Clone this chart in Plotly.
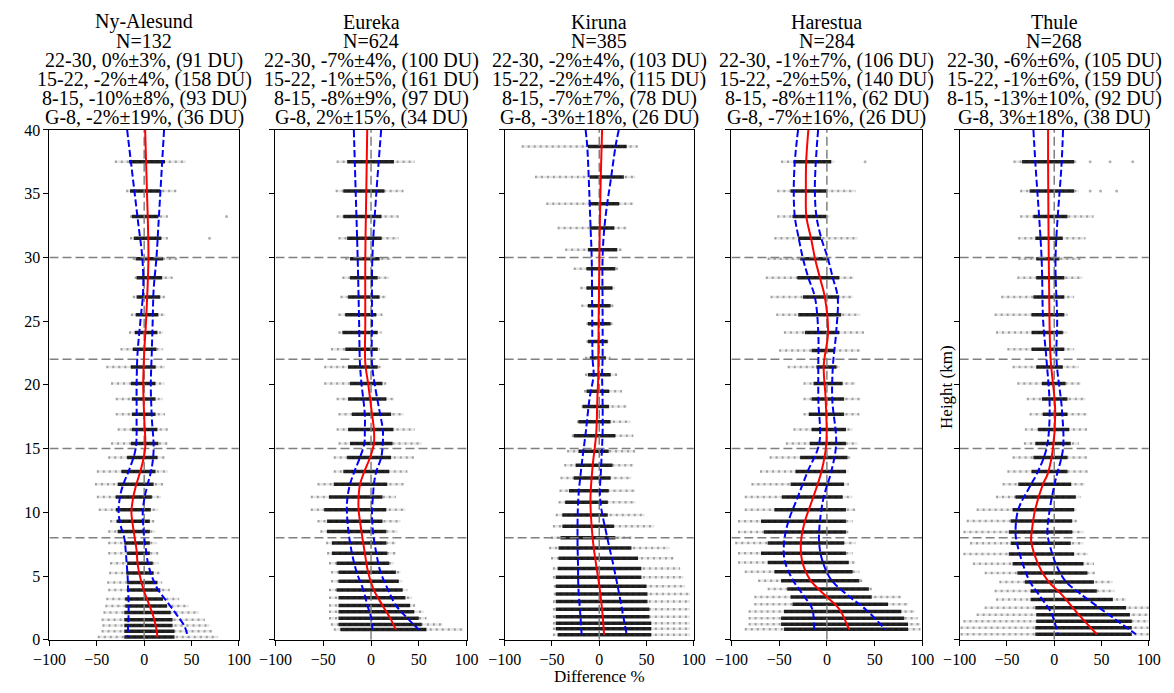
import plotly.graph_objects as go

FONT = "Liberation Serif, Times New Roman, Times, serif"

# ---------------- titles ----------------
STATIONS = ["Ny-Alesund", "Eureka", "Kiruna", "Harestua", "Thule"]
N_OBS = [132, 624, 385, 284, 268]
BIAS_22_30 = ["0%±3%", "-7%±4%", "-2%±4%", "-1%±7%", "-6%±6%"]
DU_22_30 = [91, 100, 103, 106, 105]
BIAS_15_22 = ["-2%±4%", "-1%±5%", "-2%±4%", "-2%±5%", "-1%±6%"]
DU_15_22 = [158, 161, 115, 140, 159]
BIAS_8_15 = ["-10%±8%", "-8%±9%", "-7%±7%", "-8%±11%", "-13%±10%"]
DU_8_15 = [93, 97, 78, 62, 92]
BIAS_G_8 = ["-2%±19%", "2%±15%", "-3%±18%", "-7%±16%", "3%±18%"]
DU_G_8 = [36, 34, 26, 26, 38]

BOUNDARY_HEIGHTS = [8, 15, 22, 30]
X_TICKS = [-100, -50, 0, 50, 100]
X_TICK_TEXT = ["\u2212100", "\u221250", "0", "50", "100"]
Y_TICKS = [0, 5, 10, 15, 20, 25, 30, 35, 40]

# ---------------- Ny-Alesund ----------------
NYA_LEVELS = [37.5, 35.2, 33.2, 31.5, 29.9, 28.4, 26.9, 25.5, 24.1, 22.8, 21.4, 20.1, 18.9, 17.7, 16.5, 15.4, 14.3, 13.2,
              12.2, 11.2, 10.2, 9.3, 8.5, 7.6, 6.8, 6.0, 5.25, 4.5, 3.9, 3.2, 2.65, 2.14, 1.58, 1.12, 0.67, 0.23]
NYA_CORE_LO = [-16, -15, -13, -11, -9, -8, -8, -9, -10, -12, -14, -14, -13, -13, -13, -14, -18, -24,
               -28, -30, -30, -29, -28, -21, -18, -18, -19, -18, -18, -20, -20, -21, -21, -21, -21, -21]
NYA_CORE_HI = [22, 17, 15, 18, 20, 19, 17, 15, 14, 13, 12, 12, 12, 12, 14, 15, 14, 12,
               10, 8, 7, 6, 6, 6, 6, 9, 10, 14, 17, 20, 24, 28, 30, 30, 32, 32]
NYA_OUT_LO = [-31, -19, -15, -15, -12, -10, -12, -14, -16, -25, -40, -35, -30, -30, -28, -35, -38, -50,
              -52, -50, -48, -36, -38, -38, -38, -36, -37, -39, -38, -40, -41, -43, -45, -44, -45, -49]
NYA_OUT_HI = [44, 34, 25, 25, 35, 30, 22, 22, 20, 20, 22, 22, 20, 22, 25, 25, 22, 25,
              20, 18, 15, 11, 12, 13, 15, 15, 17, 19, 27, 37, 47, 58, 64, 69, 72, 78]
NYA_OUTLIER_H = [33.2, 31.5]
NYA_OUTLIER_X = [87, 69]
NYA_H = [40, 37.5, 35, 32.5, 30, 27.5, 25, 22.5, 20, 17.5, 15, 13.5, 12, 11, 10, 9, 8, 7, 6, 5, 4, 3, 2, 1, 0.2]
NYA_MED = [1, 2, 3, 4, 4.5, 3.5, 2, 0, -1, 0, 1, -3, -9, -12, -13.5, -12, -10, -8, -7, -4.5, -1, 4, 9, 12.5, 14]
NYA_LO = [-18, -14, -10, -6, -2, -1, -4, -7, -8, -8, -9, -15, -23, -26, -27, -25, -21, -19.5, -18.5, -17.5, -17,
          -16.5, -16.5, -17, -17.5]
NYA_HI = [21, 19, 17, 15, 13, 10, 9, 8, 7, 8, 10, 8, 3, 0, -1.5, -1, 0, 2, 4, 8, 14, 24, 34, 43, 46]

# ---------------- Eureka ----------------
EUR_LEVELS = [37.5, 35.2, 33.2, 31.5, 29.9, 28.4, 26.9, 25.5, 24.1, 22.8, 21.4, 20.1, 18.9, 17.7, 16.5, 15.4, 14.3, 13.2,
              12.2, 11.2, 10.2, 9.3, 8.5, 7.6, 6.8, 6.0, 5.3, 4.6, 3.9, 3.3, 2.7, 2.2, 1.7, 1.2, 0.8]
EUR_CORE_LO = [-25, -29, -29, -25, -22, -22, -24, -27, -30, -27, -24, -22, -24, -20, -24, -22, -25, -29,
               -39, -44, -49, -46, -46, -41, -41, -36, -34, -34, -36, -34, -34, -34, -34, -34, -32]
EUR_CORE_HI = [24, 14, 11, 11, 9, 7, 9, 5.5, 7, 7, 7, 12, 16, 21, 23.5, 22.5, 21, 19,
               17, 12, 16, 12, 16, 16, 17, 19, 26, 29, 33, 36, 41, 45, 50, 53, 58]
EUR_OUT_LO = [-36, -37, -36, -34, -27, -30, -32, -34, -34, -42, -49, -49, -36, -34, -36, -34, -39, -39,
              -56, -63, -63, -56, -53, -47, -46, -44, -42, -42, -44, -44, -44, -44, -44, -42, -39]
EUR_OUT_HI = [46, 34, 29, 29, 21, 19, 16, 12, 11, 9, 11, 16, 24, 34, 46, 53, 45, 38,
              34, 26, 36, 31, 28, 26, 26, 24, 31, 33, 38, 43, 46, 55, 58, 75, 96]
EUR_OUTLIER_H = []
EUR_OUTLIER_X = []
EUR_H = [40, 35, 30, 25, 21.7, 20.1, 17.7, 16.5, 15.4, 14.3, 13.2, 12.2, 11.2, 10.2, 8.5, 6.8, 5.3, 3.9, 2.7, 1.7, 0.8]
EUR_MED = [-4, -5, -6, -6, -6, -3, 1, 3, 3, -1, -7, -11.5, -13, -13, -10, -6.5, -3, 3, 12, 20, 26]
EUR_LO = [-18, -16, -14, -12.5, -11.6, -10, -6.5, -6.5, -7, -11.6, -17.4, -22, -24.6, -25.3, -23.6, -20, -15, -8,
          -3.8, 0.3, 1.4]
EUR_HI = [10.6, 5.5, 1.4, 1, 1, 3.7, 9.5, 12.3, 12.3, 10.6, 5.5, 3, 2, 1, 2, 5.5, 10, 18, 26, 38, 50]

# ---------------- Kiruna ----------------
KIR_LEVELS = [38.7, 36.3, 34.2, 32.3, 30.6, 29.1, 27.6, 26.2, 24.8, 23.4, 22.1, 20.8, 19.5, 18.3, 17.1, 16.0, 14.8, 13.7,
              12.7, 11.7, 10.8, 9.8, 8.9, 8.0, 7.2, 6.4, 5.6, 4.9, 4.2, 3.6, 3.0, 2.4, 1.8, 1.3, 0.86, 0.4]
KIR_CORE_LO = [-12, -10, -10, -10, -12, -13.5, -13.5, -12, -12, -12, -10, -12, -13.5, -17.6, -22, -27, -22, -25,
               -27, -32, -36, -39, -39, -41, -43, -43, -44, -46, -46, -46, -46, -46, -46, -46, -46, -44]
KIR_CORE_HI = [29, 26, 21, 16, 19, 17, 14, 12, 12, 9, 7, 12, 10.4, 10.4, 12, 17, 10, 14,
               12, 10, 9, 9, 15.5, 17, 34, 41, 44.5, 44.5, 50, 51, 51, 53, 53, 55, 55, 55]
KIR_OUT_LO = [-82, -68, -56, -44, -36, -27, -20, -19, -13.5, -13.5, -15, -15, -16, -18.6, -23.6, -29, -34, -37,
              -41, -42, -43, -46, -49, -51, -53, -51, -49, -49, -48, -48, -49, -49, -49, -49, -49, -49]
KIR_OUT_HI = [41, 38, 36, 29, 24, 20, 17, 15, 14, 10.5, 12, 19, 24, 29, 33.5, 36, 38, 36,
              34, 38, 38, 48, 58, 35, 74, 79, 85.5, 89, 91, 96, 96, 96, 96, 96, 96, 96]
KIR_OUTLIER_H = []
KIR_OUTLIER_X = []
KIR_H = [40, 38.7, 36, 34, 32, 30, 26, 22, 20.8, 18.9, 16.2, 13.6, 11, 8, 6, 4, 2, 0.4]
KIR_MED = [3, 2.5, 1.5, 1, 0.5, 0.2, -0.5, -1, -1, -2, -3.2, -7, -9.3, -7, -3.5, 0.5, 3.5, 5]
KIR_LO = [-14.4, -12.7, -11, -10, -9, -8, -7.5, -7, -6, -10.3, -14.4, -18.8, -22.2, -23, -22.5, -22, -20, -18.6]
KIR_HI = [20.6, 17.2, 12, 8, 5, 3.5, 3.5, 3.5, 3, 3.5, 3.5, 2, 1, 8.5, 14.5, 20, 25, 29]

# ---------------- Harestua ----------------
HAR_LEVELS = [37.5, 35.2, 33.2, 31.5, 29.9, 28.4, 26.9, 25.5, 24.1, 22.7, 21.4, 20.1, 18.9, 17.7, 16.5, 15.4, 14.3, 13.2,
              12.2, 11.2, 10.2, 9.3, 8.46, 7.6, 6.8, 6.06, 5.33, 4.64, 3.98, 3.36, 2.78, 2.22, 1.7, 1.22, 0.82]
HAR_CORE_LO = [-35, -38, -36, -30, -28, -31, -25, -30, -23, -16, -11, -14, -16, -19, -16, -18, -28, -33,
               -38, -47, -55, -69, -66, -62, -69, -62, -55, -48, -41.5, -38, -36, -45, -48, -48, -45]
HAR_CORE_HI = [4.6, -0.5, -0.5, -6, 1, 13, 13, 15, 13, 8, 10, 16.5, 18, 18, 20, 20, 21.6, 20,
               18, 16.5, 20, 20, 20, 18, 20, 23, 27, 34, 44, 47, 64, 78, 81, 85, 85]
HAR_OUT_LO = [-48, -52, -52, -55, -62, -64, -59, -53, -45, -50, -41, -24.5, -24.5, -24.5, -35, -43, -60, -70,
              -79, -86, -86, -93, -93, -96, -93, -93, -86, -72, -62, -76, -76, -82, -82, -82, -86]
HAR_OUT_HI = [8, 30, 3, 32, 3, 28, 27, 35, 39, 35, 14, 30, 35, 34, 27, 32, 25, 23,
              23, 27, 30, 27, 23, 30, 27, 30, 34, 37, 47, 78, 85, 92, 95, 98, 98]
HAR_OUTLIER_H = [37.5]
HAR_OUTLIER_X = [40]
HAR_H = [40, 37.5, 35.2, 33.2, 31.5, 29.9, 28.4, 26.9, 24.1, 21.5, 18.9, 15.4, 13.2, 11.2, 9.2, 7.6, 6.2, 4.7, 3.4,
         2.4, 1.1, 0.8]
HAR_MED = [-19.4, -21.7, -22, -21.5, -16.6, -12.4, -7.3, -2.2, 1.2, -3.3, -1.3, -0.6, -5.7, -14.2, -23.4, -27.2, -26,
           -17.5, -0.5, 13.1, 21.6, 23.4]
HAR_LO = [-30.2, -33.6, -34.7, -33.6, -29.5, -25, -19.4, -12.6, -9, -9, -9, -8, -20.2, -30.5, -40.7, -44.9, -44.2,
          -35.7, -23.7, -15.2, -13.5, -12.8]
HAR_HI = [-9.2, -11.6, -12.6, -10.9, -5.8, 1.1, 6.2, 11.3, 9.7, 6.3, 5.6, 9.7, 4.6, -3.3, -7.4, -8.1, -4.7, 4.6, 23.4,
          40.4, 57.5, 60.9]

# ---------------- Thule ----------------
THU_LEVELS = [37.5, 35.2, 33.2, 31.5, 29.9, 28.4, 26.9, 25.5, 24.1, 22.8, 21.4, 20.1, 18.9, 17.7, 16.5, 15.4, 14.3, 13.2,
              12.2, 11.2, 10.2, 9.33, 8.46, 7.57, 6.73, 5.96, 5.25, 4.53, 3.82, 3.16, 2.52, 1.96, 1.45, 0.94, 0.44]
THU_CORE_LO = [-34, -26, -22, -20, -19, -19, -22, -24, -24, -24, -19, -13, -13, -12, -17, -20, -22, -24,
               -38, -41, -44, -46, -48, -46, -48, -44, -39, -31, -25, -25, -20, -19, -19, -20, -20]
THU_CORE_HI = [21, 21, 14, 9, 5.5, 10.7, 10.7, 10.7, 9, 10.7, 9, 12, 14, 14, 16, 17.5, 14, 14,
               18, 22.7, 21, 19, 19, 17.5, 21, 31, 35, 42, 45, 62, 76, 80, 82, 82, 82]
THU_OUT_LO = [-43, -36, -36, -38, -38, -39, -56, -63, -61.5, -49.5, -44, -39, -29, -26, -31, -32, -44, -49.5,
              -54.6, -61.5, -82, -92.5, -96, -89, -96, -86, -73.5, -58, -63, -61.5, -73.5, -82, -96, -99, -99]
THU_OUT_HI = [24, 26, 41.6, 33, 28, 30, 21, 14, 14, 21, 26, 28, 33, 35, 35, 26, 35, 36,
              32, 27.8, 24, 24, 31, 31, 36, 42, 43, 62, 64, 76, 100, 100, 100, 100, 100]
THU_OUTLIER_H = [37.5, 37.5, 37.5, 35.2, 35.2, 35.2]
THU_OUTLIER_X = [38, 59, 83, 38, 49, 66]
THU_H = [40, 37.5, 30, 25, 22, 18, 15, 13, 12.2, 10.2, 8.5, 7.8, 5.9, 4.6, 3.6, 2.1, 0.44]
THU_MED = [-6.5, -6.5, -5.8, -5, -3.8, 1, -1.4, -7, -12, -20.2, -23.7, -24.4, -16.8, -6.5, 7.2, 24.4, 45]
THU_LO = [-22, -20, -13.4, -11.7, -8.2, -4.8, -8.2, -18.5, -24.4, -38.1, -40.9, -40, -33, -26, -16.8, -3.1, 3.8]
THU_HI = [9.3, 7.9, 1.4, 3.1, 2.4, 8.2, 9.3, 3, 0.3, -4.8, -7.2, -6, 2, 12, 27.8, 55.3, 86.3]

PANELS = [
    (NYA_LEVELS, NYA_CORE_LO, NYA_CORE_HI, NYA_OUT_LO, NYA_OUT_HI, NYA_OUTLIER_H, NYA_OUTLIER_X, NYA_H, NYA_MED, NYA_LO, NYA_HI),
    (EUR_LEVELS, EUR_CORE_LO, EUR_CORE_HI, EUR_OUT_LO, EUR_OUT_HI, EUR_OUTLIER_H, EUR_OUTLIER_X, EUR_H, EUR_MED, EUR_LO, EUR_HI),
    (KIR_LEVELS, KIR_CORE_LO, KIR_CORE_HI, KIR_OUT_LO, KIR_OUT_HI, KIR_OUTLIER_H, KIR_OUTLIER_X, KIR_H, KIR_MED, KIR_LO, KIR_HI),
    (HAR_LEVELS, HAR_CORE_LO, HAR_CORE_HI, HAR_OUT_LO, HAR_OUT_HI, HAR_OUTLIER_H, HAR_OUTLIER_X, HAR_H, HAR_MED, HAR_LO, HAR_HI),
    (THU_LEVELS, THU_CORE_LO, THU_CORE_HI, THU_OUT_LO, THU_OUT_HI, THU_OUTLIER_H, THU_OUTLIER_X, THU_H, THU_MED, THU_LO, THU_HI),
]

# panel placement (pixels in 1174 x 693)
W, H = 1174, 693
PANEL_LEFT_PX = [33.3, 265.0, 500.0, 732.5, 966.5]
PANEL_RIGHT_PX = [227.5, 461.0, 694.0, 928.3, 1160.5]
PLOT_TOP_PX, PLOT_BOTTOM_PX = 125.0, 647.7
TITLE_LINE_PX = [14.0, 33.5, 53.5, 73.3, 92.9, 112.7]


def segments(levels, lo, hi):
    xs, ys = [], []
    for h, a, b in zip(levels, lo, hi):
        xs += [a, b, None]
        ys += [h, h, None]
    return xs, ys


fig = go.Figure()
layout = dict(
    width=W, height=H, margin=dict(l=0, r=0, t=0, b=0),
    paper_bgcolor="white", plot_bgcolor="white", showlegend=False,
    font=dict(family=FONT, color="black"),
)
annotations = []

for i, (lev, clo, chi, olo, ohi, out_h, out_x, lh, lmed, llo, lhi) in enumerate(PANELS):
    n = i + 1
    xa = "x" if n == 1 else f"x{n}"
    ya = "y" if n == 1 else f"y{n}"

    # sparse scatter (outer range)
    xs, ys = segments(lev, olo, ohi)
    fig.add_trace(go.Scatter(x=xs, y=ys, mode="lines", xaxis=xa, yaxis=ya, hoverinfo="skip",
                             line=dict(color="rgba(0,0,0,0.10)", width=2.5)))
    fig.add_trace(go.Scatter(x=xs, y=ys, mode="lines", xaxis=xa, yaxis=ya, hoverinfo="skip",
                             line=dict(color="rgba(0,0,0,0.30)", width=2.5, dash="2px,4px")))
    # dense scatter (core)
    xs, ys = segments(lev, clo, chi)
    fig.add_trace(go.Scatter(x=xs, y=ys, mode="lines", xaxis=xa, yaxis=ya, hoverinfo="skip",
                             line=dict(color="rgba(0,0,0,0.85)", width=3.5)))
    if out_h:
        fig.add_trace(go.Scatter(x=out_x, y=out_h, mode="markers", xaxis=xa, yaxis=ya, hoverinfo="skip",
                                 marker=dict(color="rgba(0,0,0,0.3)", size=3)))

    # grey reference lines
    gx, gy = [], []
    for hb in BOUNDARY_HEIGHTS:
        gx += [X_TICKS[0], X_TICKS[-1], None]
        gy += [hb, hb, None]
    fig.add_trace(go.Scatter(x=gx, y=gy, mode="lines", xaxis=xa, yaxis=ya, hoverinfo="skip",
                             line=dict(color="#808080", width=1.5, dash="9px,4px")))
    fig.add_trace(go.Scatter(x=[0, 0], y=[Y_TICKS[0], Y_TICKS[-1]], mode="lines", xaxis=xa, yaxis=ya,
                             hoverinfo="skip", line=dict(color="#808080", width=1.5, dash="9px,4px")))

    # spread and median
    for arr in (llo, lhi):
        fig.add_trace(go.Scatter(x=arr, y=lh, mode="lines", xaxis=xa, yaxis=ya, hoverinfo="skip",
                                 line=dict(color="#0000ff", width=2, dash="7px,3px", shape="spline")))
    fig.add_trace(go.Scatter(x=lmed, y=lh, mode="lines", xaxis=xa, yaxis=ya, hoverinfo="skip",
                             line=dict(color="#ff0000", width=2, shape="spline")))

    x0 = PANEL_LEFT_PX[i] / W
    x1 = PANEL_RIGHT_PX[i] / W
    axis_common = dict(showline=True, mirror=True, linecolor="black", linewidth=1,
                       ticks="outside", ticklen=5, tickwidth=1, tickcolor="black",
                       showgrid=False, zeroline=False, fixedrange=True)
    layout["xaxis" if n == 1 else f"xaxis{n}"] = dict(
        domain=[x0, x1], range=[X_TICKS[0], X_TICKS[-1]], anchor=ya,
        tickvals=X_TICKS, ticktext=X_TICK_TEXT, tickfont=dict(family=FONT, size=16, color="black"),
        **axis_common)
    layout["yaxis" if n == 1 else f"yaxis{n}"] = dict(
        domain=[1 - PLOT_BOTTOM_PX / H, 1 - PLOT_TOP_PX / H], range=[Y_TICKS[0], Y_TICKS[-1]], anchor=xa,
        tickvals=Y_TICKS, showticklabels=(n == 1), tickfont=dict(family=FONT, size=16, color="black"),
        **axis_common)

    lines = [
        STATIONS[i],
        f"N={N_OBS[i]}",
        f"22-30, {BIAS_22_30[i]}, ({DU_22_30[i]} DU)",
        f"15-22, {BIAS_15_22[i]}, ({DU_15_22[i]} DU)",
        f"8-15, {BIAS_8_15[i]}, ({DU_8_15[i]} DU)",
        f"G-8, {BIAS_G_8[i]}, ({DU_G_8[i]} DU)",
    ]
    xc = (x0 + x1) / 2
    for txt, ypx in zip(lines, TITLE_LINE_PX):
        annotations.append(dict(text=txt, x=xc, y=1 - ypx / H, xref="paper", yref="paper",
                                xanchor="center", yanchor="middle", showarrow=False, borderpad=0,
                                font=dict(family=FONT, size=20, color="black")))

annotations.append(dict(text="Difference %", x=597 / W, y=1 - 685 / H, xref="paper", yref="paper",
                        xanchor="center", yanchor="middle", showarrow=False, borderpad=0,
                        font=dict(family=FONT, size=17, color="black")))
annotations.append(dict(text="Height (km)", x=953 / W, y=1 - 388 / H, xref="paper", yref="paper",
                        xanchor="center", yanchor="middle", showarrow=False, textangle=-90,
                        font=dict(family=FONT, size=17, color="black")))
layout["annotations"] = annotations
fig.update_layout(**layout)
fig.write_html("out.html")
